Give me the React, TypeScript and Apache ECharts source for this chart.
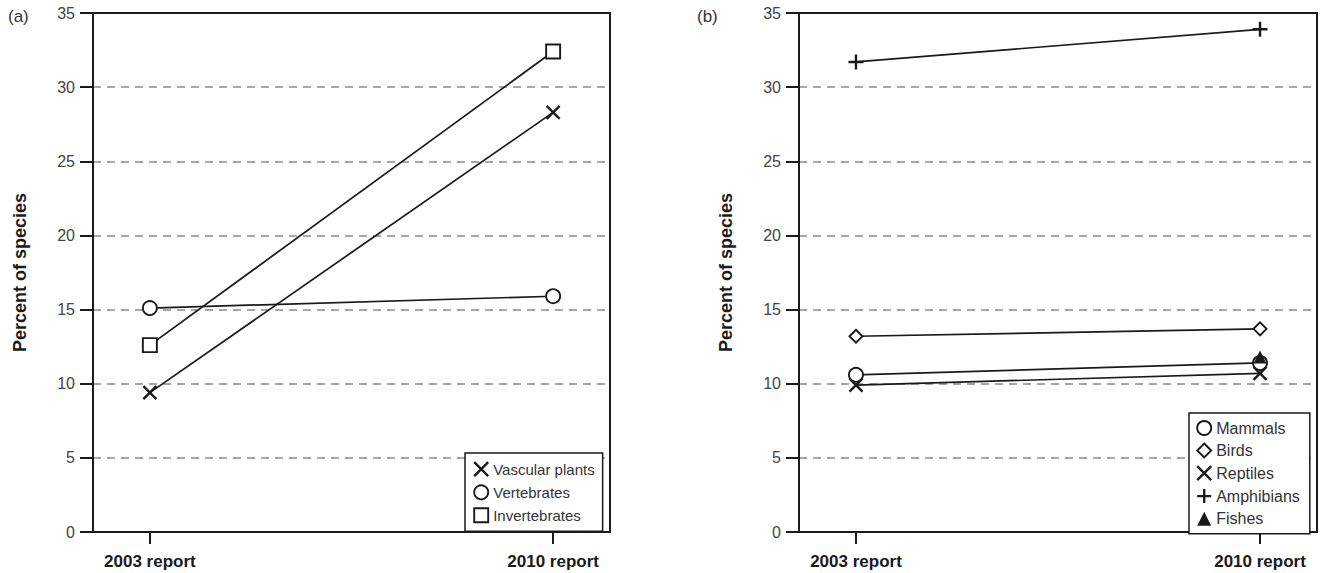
import React, { useEffect, useRef } from "react";
import * as echarts from "echarts";

const reports = ["2003 report", "2010 report"];
const yTicks = [0, 5, 10, 15, 20, 25, 30, 35];

// Panel (a)
const vascularPlants = [9.4, 28.3];
const vertebrates = [15.1, 15.9];
const invertebrates = [12.6, 32.4];

// Panel (b)
const mammals = [10.6, 11.4];
const birds = [13.2, 13.7];
const reptiles = [9.9, 10.7];
const amphibians = [31.7, 33.9];
const fishes: (number | null)[] = [null, 11.8];

const FONT = "Liberation Sans, Arial, sans-serif";
const INK = "#1a1a1a";
const XSYM = "path://M0,0L10,10M10,0L0,10";
const PLUS = "path://M5,0L5,10M0,5L10,5";

const toPts = (vals: (number | null)[]) =>
  vals.map((v, i) => (v === null ? null : [i, v])).filter((p) => p !== null);

function axes(gridIndex: number) {
  const xAxis = {
    gridIndex,
    type: "value",
    min: -0.141,
    max: 1.141,
    axisLine: { show: true, onZero: false, lineStyle: { color: INK, width: 2 } },
    axisTick: {
      show: true,
      customValues: [0, 1],
      length: 12,
      lineStyle: { color: INK, width: 2 },
    },
    axisLabel: {
      show: true,
      customValues: [0, 1],
      formatter: (v: number) => reports[Math.round(v)] ?? "",
      fontFamily: FONT,
      fontSize: 17,
      fontWeight: "bold",
      color: INK,
      margin: 21,
    },
    splitLine: { show: false },
  };
  const yAxis = {
    gridIndex,
    type: "value",
    min: yTicks[0],
    max: yTicks[yTicks.length - 1],
    interval: 5,
    name: "Percent of species",
    nameLocation: "middle",
    nameGap: 64,
    nameTextStyle: { fontFamily: FONT, fontSize: 18, fontWeight: "bold", color: INK },
    axisLine: { show: true, onZero: false, lineStyle: { color: INK, width: 2 } },
    axisTick: { show: true, length: 13, lineStyle: { color: INK, width: 2 } },
    axisLabel: { fontFamily: FONT, fontSize: 16, color: "#444", margin: 18 },
    splitLine: {
      show: true,
      showMinLine: false,
      showMaxLine: false,
      lineStyle: { color: "#8a8a8a", type: [8, 6], width: 1.5 },
    },
  };
  return { xAxis, yAxis };
}

function lineSeries(
  name: string,
  vals: (number | null)[],
  idx: number,
  symbol: string,
  symbolSize: number,
  filled = false
) {
  return {
    name,
    type: "line",
    xAxisIndex: idx,
    yAxisIndex: idx,
    data: toPts(vals),
    symbol,
    symbolSize,
    showAllSymbol: true,
    lineStyle: { color: INK, width: 1.7 },
    itemStyle: {
      color: filled ? INK : "#fff",
      borderColor: INK,
      borderWidth: filled ? 2.4 : 1.9,
    },
    emphasis: { disabled: true },
    z: 3,
  };
}

export default function App() {
  const ref = useRef<HTMLDivElement>(null);
  useEffect(() => {
    if (!ref.current) return;
    const chart = echarts.init(ref.current, null, { renderer: "svg" });
    const a = axes(0);
    const b = axes(1);
    const hollow = { color: "#fff", borderColor: INK, borderWidth: 1.9 };
    const stroked = { color: INK, borderColor: INK, borderWidth: 2.4 };
    chart.setOption({
      animation: false,
      backgroundColor: "#fff",
      grid: [
        { left: 93, top: 13, width: 517, height: 519, show: true, borderColor: INK, borderWidth: 2, backgroundColor: "transparent" },
        { left: 799, top: 13, width: 518, height: 519, show: true, borderColor: INK, borderWidth: 2, backgroundColor: "transparent" },
      ],
      xAxis: [a.xAxis, b.xAxis],
      yAxis: [a.yAxis, b.yAxis],
      legend: [
        {
          left: 465,
          top: 453,
          orient: "vertical",
          itemWidth: 14,
          itemHeight: 14,
          itemGap: 7,
          padding: [8, 8, 8, 8],
          backgroundColor: "#fff",
          borderColor: INK,
          borderWidth: 1.5,
          textStyle: { fontFamily: FONT, fontSize: 15, color: "#333" },
          selectedMode: false,
          data: [
            { name: "Vascular plants", icon: XSYM, itemStyle: stroked },
            { name: "Vertebrates", icon: "circle", itemStyle: hollow },
            { name: "Invertebrates", icon: "rect", itemStyle: hollow },
          ],
        },
        {
          left: 1189,
          top: 413,
          orient: "vertical",
          itemWidth: 14,
          itemHeight: 14,
          itemGap: 6.5,
          padding: [7, 10, 7, 7],
          backgroundColor: "#fff",
          borderColor: INK,
          borderWidth: 1.5,
          textStyle: { fontFamily: FONT, fontSize: 16, color: "#333" },
          selectedMode: false,
          data: [
            { name: "Mammals", icon: "circle", itemStyle: hollow },
            { name: "Birds", icon: "diamond", itemStyle: hollow },
            { name: "Reptiles", icon: XSYM, itemStyle: stroked },
            { name: "Amphibians", icon: PLUS, itemStyle: stroked },
            { name: "Fishes", icon: "triangle", itemStyle: { color: INK, borderColor: INK, borderWidth: 0 } },
          ],
        },
      ],
      graphic: [
        { type: "text", left: 8, top: 8, style: { text: "(a)", font: `17px ${FONT}`, fill: "#333" } },
        { type: "text", left: 697, top: 8, style: { text: "(b)", font: `17px ${FONT}`, fill: "#333" } },
      ],
      series: [
        lineSeries("Vascular plants", vascularPlants, 0, XSYM, 13, true),
        lineSeries("Vertebrates", vertebrates, 0, "circle", 14),
        lineSeries("Invertebrates", invertebrates, 0, "rect", 14),
        lineSeries("Mammals", mammals, 1, "circle", 14),
        lineSeries("Birds", birds, 1, "diamond", 13),
        lineSeries("Reptiles", reptiles, 1, XSYM, 13, true),
        lineSeries("Amphibians", amphibians, 1, PLUS, 15, true),
        { ...lineSeries("Fishes", fishes, 1, "triangle", 13, true), itemStyle: { color: INK, borderWidth: 0 }, z: 4 },
      ],
    });
    return () => chart.dispose();
  }, []);
  return (
    <div
      ref={ref}
      style={{ position: "fixed", left: 0, top: 0, width: 1321, height: 573 }}
    />
  );
}
